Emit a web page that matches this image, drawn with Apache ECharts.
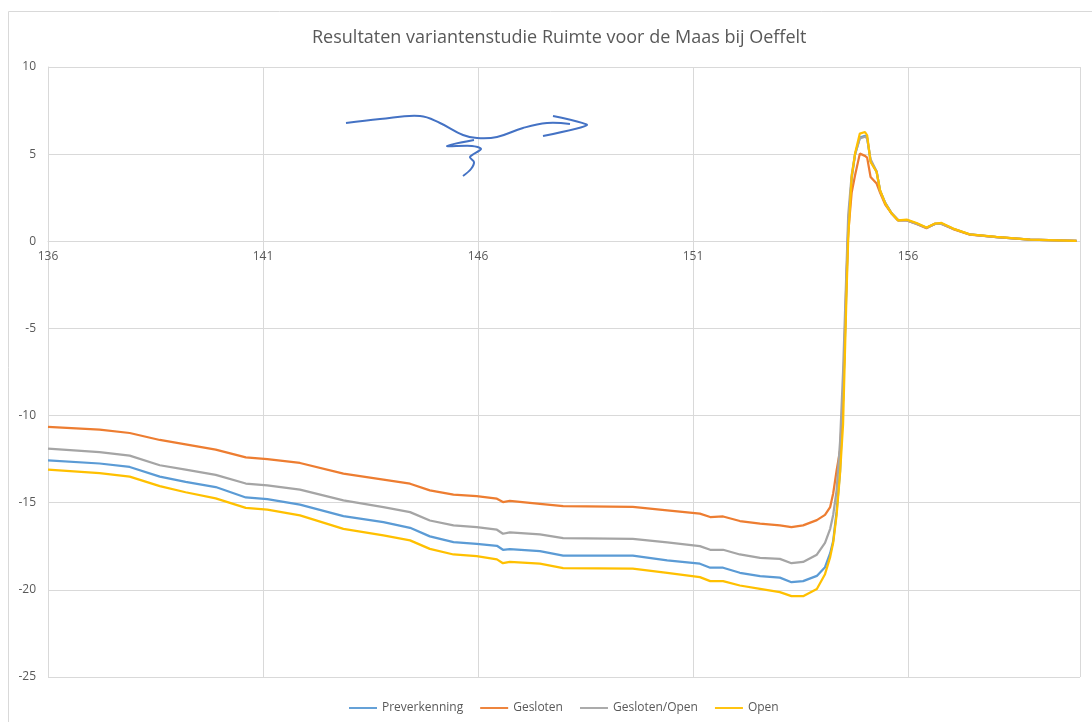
<!DOCTYPE html>
<html>
<head>
<meta charset="utf-8">
<title>Resultaten variantenstudie</title>
<script src="https://cdn.jsdelivr.net/npm/echarts@6/dist/echarts.min.js"></script>
<style>
    html, body { margin: 0; padding: 0; background: #fff; }
    #container { width: 1092px; height: 722px; }
</style>
</head>
<body>
<div id="container"></div>
<script>
// x-positie (km), gedeeld door alle varianten
var xStart = 136;
var xPos = [136.0, 137.2, 137.9, 138.6, 139.2, 139.9, 140.6, 141.1, 141.86, 142.87,
    143.8, 144.42, 144.88, 145.43, 145.97, 146.44, 146.58, 146.74, 147.44, 147.98,
    149.6, 150.4, 151.16, 151.4, 151.7, 152.09, 152.56, 153.02, 153.29, 153.56,
    153.88, 154.07, 154.19, 154.26, 154.34, 154.42, 154.49, 154.57, 154.61, 154.69,
    154.77, 154.88, 155.0, 155.05, 155.13, 155.27, 155.35, 155.47, 155.62, 155.77,
    155.97, 156.2, 156.43, 156.63, 156.78, 157.05, 157.44, 158.06, 158.84, 159.92];

var seriesNames = ['Preverkenning', 'Gesloten', 'Gesloten/Open', 'Open'];

var preverkenning = [-12.57, -12.75, -12.95, -13.5, -13.8, -14.1, -14.7, -14.8, -15.11, -15.77,
    -16.11, -16.44, -16.93, -17.26, -17.36, -17.47, -17.7, -17.66, -17.78, -18.04,
    -18.04, -18.31, -18.5, -18.73, -18.73, -19.02, -19.21, -19.3, -19.56, -19.5,
    -19.2, -18.7, -17.9, -17.2, -15.5, -13.2, -9.0, -2.5, 0.8, 3.6,
    5.0, 5.95, 6.05, 5.95, 4.6, 4.0, 2.9, 2.2, 1.6, 1.22,
    1.22, 1.02, 0.78, 1.0, 1.02, 0.72, 0.39, 0.24, 0.1, 0.02];

var gesloten = [-10.65, -10.8, -11.0, -11.4, -11.65, -11.95, -12.4, -12.5, -12.72, -13.33,
    -13.68, -13.91, -14.29, -14.54, -14.62, -14.77, -14.96, -14.9, -15.06, -15.2,
    -15.24, -15.44, -15.63, -15.82, -15.79, -16.05, -16.2, -16.3, -16.4, -16.3,
    -16.0, -15.7, -15.25, -14.47, -13.15, -12.0, -9.0, -2.0, 0.5, 2.8,
    3.8, 5.03, 4.9, 4.8, 3.69, 3.31, 2.8, 2.1, 1.59, 1.2,
    1.2, 1.0, 0.75, 1.0, 1.0, 0.7, 0.38, 0.24, 0.1, 0.02];

var geslotenOpen = [-11.9, -12.1, -12.3, -12.85, -13.1, -13.4, -13.9, -14.0, -14.25, -14.87,
    -15.25, -15.54, -16.02, -16.3, -16.4, -16.55, -16.78, -16.7, -16.82, -17.03,
    -17.07, -17.28, -17.49, -17.7, -17.7, -17.97, -18.16, -18.22, -18.47, -18.4,
    -17.98, -17.3, -16.5, -15.7, -14.3, -11.5, -7.5, -1.5, 1.5, 3.8,
    5.0, 5.9, 6.0, 5.9, 4.7, 4.0, 2.9, 2.2, 1.6, 1.2,
    1.2, 1.0, 0.78, 1.0, 1.0, 0.72, 0.39, 0.24, 0.1, 0.02];

var open = [-13.1, -13.3, -13.5, -14.05, -14.4, -14.75, -15.3, -15.4, -15.73, -16.5,
    -16.88, -17.16, -17.65, -17.97, -18.07, -18.25, -18.47, -18.39, -18.5, -18.75,
    -18.78, -19.03, -19.27, -19.5, -19.5, -19.75, -19.94, -20.13, -20.36, -20.36,
    -19.95, -19.1, -18.12, -17.3, -15.7, -13.3, -10.5, -3.0, 0.2, 3.7,
    5.05, 6.18, 6.27, 6.08, 4.55, 3.98, 2.93, 2.18, 1.59, 1.2,
    1.24, 1.05, 0.79, 1.02, 1.05, 0.73, 0.4, 0.25, 0.1, 0.02];

var colors = ['#5B9BD5', '#ED7D31', '#A5A5A5', '#FFC000'];

function pairs(ys) {
    var out = [];
    for (var i = 0; i < xPos.length; i++) {
        out.push([xPos[i] - xStart, ys[i]]);
    }
    return out;
}

var allValues = [preverkenning, gesloten, geslotenOpen, open];
var series = [];
for (var s = 0; s < seriesNames.length; s++) {
    series.push({
        name: seriesNames[s],
        type: 'line',
        symbol: 'none',
        smooth: false,
        lineStyle: { width: 2.25, color: colors[s] },
        itemStyle: { color: colors[s] },
        data: pairs(allValues[s])
    });
}

var dom = document.getElementById('container');
var myChart = echarts.init(dom);
var pen = '#4472C4';
// grid: top 67, hoogte 610, y van -25 t/m 10 -> nullijn ligt 436 px boven de onderkant
var zeroOffset = -(610 * 25 / 35);
var option = {
    animation: false,
    textStyle: { fontFamily: 'Open Sans' },
    title: {
        text: 'Resultaten variantenstudie Ruimte voor de Maas bij Oeffelt',
        left: 307,
        top: 24,
        textStyle: { fontSize: 18, fontWeight: 'normal', color: '#595959', fontFamily: 'Open Sans' }
    },
    legend: {
        bottom: 3,
        left: 344,
        itemWidth: 28,
        itemHeight: 10,
        itemGap: 17,
        icon: 'path://M0,4 L30,4 L30,6 L0,6 Z',
        textStyle: { color: '#595959', fontSize: 12 },
        data: seriesNames
    },
    grid: {
        left: 48,
        right: 12,
        top: 67,
        bottom: 45,
        containLabel: false
    },
    xAxis: {
        type: 'value',
        min: 0,
        max: 24,
        interval: 5,
        position: 'bottom',
        offset: zeroOffset,
        axisLine: { show: true, onZero: false, lineStyle: { color: '#d9d9d9', width: 1 } },
        axisTick: { show: false },
        axisLabel: {
            color: '#595959',
            fontSize: 12,
            margin: 9,
            showMaxLabel: false,
            formatter: function (v) { return String(v + xStart); }
        },
        splitLine: { show: true, lineStyle: { color: '#d9d9d9', width: 1 } }
    },
    yAxis: {
        type: 'value',
        min: -25,
        max: 10,
        interval: 5,
        axisLine: { show: true, onZero: false, lineStyle: { color: '#d9d9d9', width: 1 } },
        axisTick: { show: false },
        axisLabel: { color: '#595959', fontSize: 12, margin: 12 },
        splitLine: { show: true, lineStyle: { color: '#d9d9d9', width: 1 } }
    },
    graphic: [
        {
            type: 'rect',
            shape: { x: 8.5, y: 11.5, width: 1200, height: 800 },
            style: { fill: 'none', stroke: '#d9d9d9', lineWidth: 1 },
            silent: true, z: -10
        },
        // handgetekende pijl
        {
            type: 'polyline',
            shape: {
                points: [[346, 123], [380, 119], [420, 116], [440, 123], [463, 135], [477, 138],
                    [497, 137], [523, 128], [547, 123], [570, 124]],
                smooth: 0.4
            },
            style: { stroke: pen, lineWidth: 2, fill: 'none' }, z: 100
        },
        {
            type: 'polyline',
            shape: { points: [[553, 116], [587, 125], [543, 136]], smooth: 0.2 },
            style: { stroke: pen, lineWidth: 2, fill: 'none' }, z: 100
        },
        {
            type: 'polyline',
            shape: {
                points: [[474, 140], [447, 146], [472, 146], [481, 149], [470, 157], [474, 162], [471, 169], [463, 176]],
                smooth: 0.3
            },
            style: { stroke: pen, lineWidth: 2, fill: 'none' }, z: 100
        }
    ],
    series: series
};

if (option && typeof option === 'object') {
    myChart.setOption(option, true);
}
</script>
</body>
</html>
